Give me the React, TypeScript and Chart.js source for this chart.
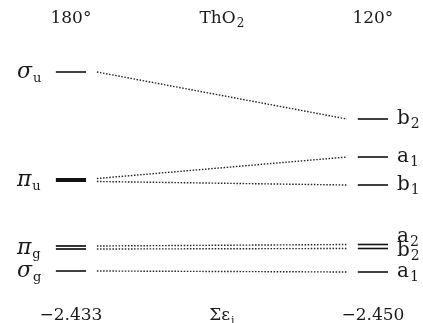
import React, { useEffect, useRef } from 'react';
import { Chart, registerables } from 'chart.js';

Chart.register(...registerables);

// ---- data ----
const columnTitles: [string, string][] = [['180°', ''], ['ThO', '2'], ['120°', '']];
const columnSums: [string, string][] = [['−2.433', ''], ['Σε', 'i'], ['−2.450', '']];
const leftSymbols: [string, string][] = [['σ', 'u'], ['π', 'u'], ['π', 'g'], ['σ', 'g']];
const leftEnergies = [2.51, 1.43, 0.755, 0.52];
const leftStyles = ['single', 'thick', 'double', 'single'];
const rightSymbols: [string, string][] = [['b', '2'], ['a', '1'], ['b', '1'], ['a', '2'], ['b', '2'], ['a', '1']];
const rightEnergies = [2.04, 1.66, 1.38, 0.785, 0.745, 0.51];
const rightLabelNudge = [0, 0, 0, -8, 2, 0];
const correlations: [number, number][] = [[0, 0], [1, 1], [1, 2], [2, 3], [2, 4], [3, 5]];

// ---- layout (scale units) ----
const X_LEFT = 0;
const X_RIGHT = 1;
const HALF = 0.05;
const GAP = 0.086;
const SPLIT = 0.015;
const X_MIN = -0.235;
const X_MAX = 1.166;
const Y_MIN = 0;
const Y_MAX = 3.23;

const FONT = '"DejaVu Serif", "Liberation Serif", serif';

function drawSub(
  ctx: CanvasRenderingContext2D,
  x: number,
  y: number,
  main: string,
  sub: string,
  mainSize: number,
  subSize: number,
  subDy: number,
  align: 'left' | 'center',
  italic = false
) {
  const mf = `${italic ? 'italic ' : ''}${mainSize}px ${FONT}`;
  const sf = `${subSize}px ${FONT}`;
  ctx.font = mf;
  const mw = ctx.measureText(main).width;
  ctx.font = sf;
  const sw = sub ? ctx.measureText(sub).width + 1 : 0;
  let x0 = x;
  if (align === 'center') x0 = x - (mw + sw) / 2;
  ctx.textAlign = 'left';
  ctx.textBaseline = 'alphabetic';
  ctx.fillStyle = '#1a1a1a';
  ctx.font = mf;
  ctx.fillText(main, x0, y);
  if (sub) {
    ctx.font = sf;
    ctx.fillText(sub, x0 + mw + 1, y + subDy);
  }
}

const labelPlugin = {
  id: 'levelLabels',
  afterDatasetsDraw(chart: any) {
    const ctx: CanvasRenderingContext2D = chart.ctx;
    const xs = chart.scales.x;
    const ys = chart.scales.y;
    const cols = [X_LEFT, (X_LEFT + X_RIGHT) / 2, X_RIGHT];
    ctx.save();
    const topY = ys.getPixelForValue(3.06) + 6;
    const botY = ys.getPixelForValue(0.09) + 6;
    columnTitles.forEach((t, i) => {
      drawSub(ctx, xs.getPixelForValue(cols[i]), topY, t[0], t[1], 17, 12, 4, 'center');
    });
    columnSums.forEach((t, i) => {
      drawSub(ctx, xs.getPixelForValue(cols[i]), botY, t[0], t[1], 17, 11, 4, 'center');
    });
    leftSymbols.forEach((s, i) => {
      const y = ys.getPixelForValue(leftEnergies[i]) + 6;
      drawSub(ctx, xs.getPixelForValue(X_LEFT - 0.179), y, s[0], s[1], 22, 13, 4, 'left', true);
    });
    rightSymbols.forEach((s, i) => {
      const y = ys.getPixelForValue(rightEnergies[i]) + 5 + rightLabelNudge[i];
      drawSub(ctx, xs.getPixelForValue(X_RIGHT + 0.08), y, s[0], s[1], 20, 14, 4, 'left');
    });
    ctx.restore();
  },
};

function buildDatasets() {
  const ds: any[] = [];
  const levelBase = { pointRadius: 0, borderColor: '#111', fill: false, tension: 0 };
  leftEnergies.forEach((e, i) => {
    const st = leftStyles[i];
    if (st === 'double') {
      [e + SPLIT, e - SPLIT].forEach((v) =>
        ds.push({ ...levelBase, borderWidth: 1.7, data: [{ x: X_LEFT - HALF, y: v }, { x: X_LEFT + HALF, y: v }] })
      );
    } else {
      ds.push({
        ...levelBase,
        borderWidth: st === 'thick' ? 4 : 1.6,
        data: [{ x: X_LEFT - HALF, y: e }, { x: X_LEFT + HALF, y: e }],
      });
    }
  });
  rightEnergies.forEach((e) => {
    ds.push({ ...levelBase, borderWidth: 1.6, data: [{ x: X_RIGHT - HALF, y: e }, { x: X_RIGHT + HALF, y: e }] });
  });
  const used: Record<number, number> = {};
  correlations.forEach(([l, r]) => {
    const count = correlations.filter((c) => c[0] === l).length;
    const k = used[l] || 0;
    used[l] = k + 1;
    const off = count > 1 ? (k === 0 ? SPLIT : -SPLIT) : 0;
    ds.push({
      pointRadius: 0,
      borderColor: '#222',
      borderWidth: 1.4,
      borderDash: [1.5, 1.6],
      fill: false,
      data: [
        { x: X_LEFT + GAP, y: leftEnergies[l] + off },
        { x: X_RIGHT - GAP, y: rightEnergies[r] },
      ],
    });
  });
  return ds;
}

export default function App() {
  const ref = useRef<HTMLCanvasElement | null>(null);
  useEffect(() => {
    document.body.style.margin = '0';
    if (!ref.current) return;
    const chart = new Chart(ref.current, {
      type: 'line',
      data: { datasets: buildDatasets() },
      options: {
        animation: false,
        responsive: false,
        events: [],
        layout: { padding: 0 },
        plugins: { legend: { display: false }, tooltip: { enabled: false } },
        scales: {
          x: { type: 'linear', min: X_MIN, max: X_MAX, display: false },
          y: { type: 'linear', min: Y_MIN, max: Y_MAX, display: false },
        },
      },
      plugins: [labelPlugin],
    });
    return () => chart.destroy();
  }, []);
  return (
    <div style={{ width: 423, height: 323, background: '#fff' }}>
      <canvas ref={ref} width={423} height={323} style={{ display: 'block' }} />
    </div>
  );
}
